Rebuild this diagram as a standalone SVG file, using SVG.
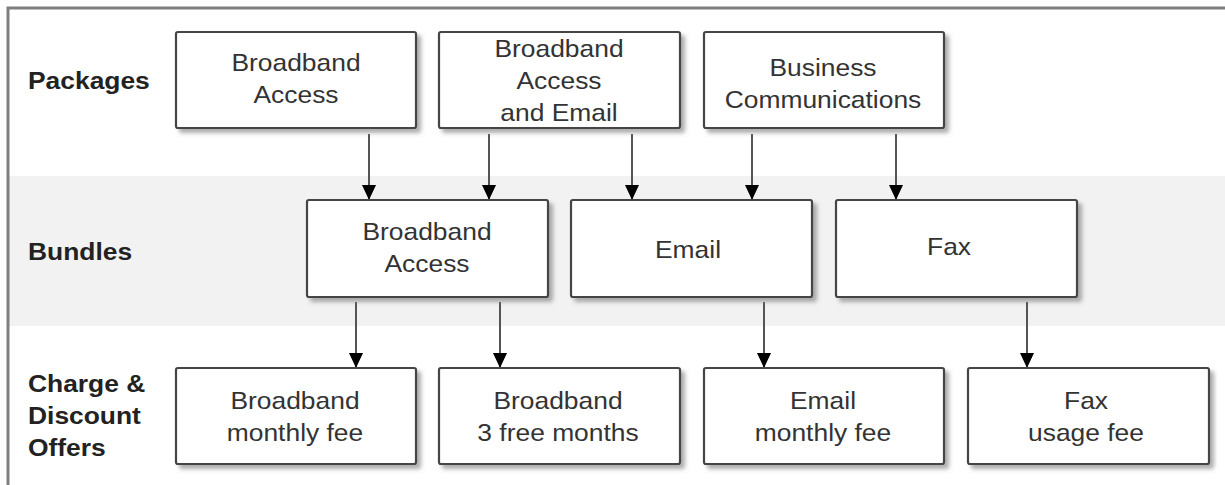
<svg xmlns="http://www.w3.org/2000/svg" width="1225" height="485" viewBox="0 0 1225 485">
<style>
.box{fill:#fff;stroke:#444;stroke-width:2.2;filter:url(#sh)}
.t{font-family:"Liberation Sans",Arial,sans-serif;font-size:24px;fill:#333;text-anchor:middle}
.lb{font-family:"Liberation Sans",Arial,sans-serif;font-size:24px;font-weight:bold;fill:#222}
.c{stroke:#555;stroke-width:2;fill:none;marker-end:url(#ah)}
</style>
<defs>
<filter id="sh" x="-10%" y="-10%" width="130%" height="140%">
<feDropShadow dx="4" dy="4" stdDeviation="2" flood-color="#777" flood-opacity="0.6"/>
</filter>
<marker id="ah" markerWidth="15" markerHeight="14" refX="15" refY="7" orient="auto" markerUnits="userSpaceOnUse" viewBox="0 0 15 14">
<path d="M0,0 L15,7 L0,14 Z" fill="#000"/>
</marker>
</defs>
<rect x="0" y="0" width="1225" height="485" fill="#fff"/>
<rect x="9" y="176" width="1216" height="150" fill="#f2f2f2"/>
<rect x="8" y="8" width="1240" height="500" fill="none" stroke="#7f7f7f" stroke-width="3"/>
<g id="lanes">
<text class="lb" transform="translate(28,89) scale(1.1,1)">Packages</text>
<text class="lb" transform="translate(28,260) scale(1.1,1)">Bundles</text>
<text class="lb" transform="translate(28,392) scale(1.1,1)">Charge &amp;</text>
<text class="lb" transform="translate(28,424) scale(1.1,1)">Discount</text>
<text class="lb" transform="translate(28,456) scale(1.1,1)">Offers</text>
</g>
<g id="connectors">
<line class="c" x1="369" y1="134" x2="369" y2="200"/>
<line class="c" x1="489" y1="134" x2="489" y2="200"/>
<line class="c" x1="632" y1="134" x2="632" y2="200"/>
<line class="c" x1="752" y1="134" x2="752" y2="200"/>
<line class="c" x1="896" y1="134" x2="896" y2="200"/>
<line class="c" x1="356" y1="302" x2="356" y2="368"/>
<line class="c" x1="500" y1="302" x2="500" y2="368"/>
<line class="c" x1="764" y1="302" x2="764" y2="368"/>
<line class="c" x1="1027" y1="302" x2="1027" y2="368"/>
</g>
<g id="pkg-broadband">
<rect class="box" x="176" y="32" width="240" height="96" rx="2"/>
<text class="t" transform="translate(296,71) scale(1.1,1)">Broadband</text>
<text class="t" transform="translate(296,103) scale(1.1,1)">Access</text>
</g>
<g id="pkg-broadband-email">
<rect class="box" x="439" y="32" width="241" height="96" rx="2"/>
<text class="t" transform="translate(559,57) scale(1.1,1)">Broadband</text>
<text class="t" transform="translate(559,89) scale(1.1,1)">Access</text>
<text class="t" transform="translate(559,121) scale(1.1,1)">and Email</text>
</g>
<g id="pkg-business">
<rect class="box" x="704" y="32" width="240" height="96" rx="2"/>
<text class="t" transform="translate(823,76) scale(1.1,1)">Business</text>
<text class="t" transform="translate(823,108) scale(1.1,1)">Communications</text>
</g>
<g id="bun-broadband">
<rect class="box" x="307" y="200" width="241" height="97" rx="2"/>
<text class="t" transform="translate(427,240) scale(1.1,1)">Broadband</text>
<text class="t" transform="translate(427,272) scale(1.1,1)">Access</text>
</g>
<g id="bun-email">
<rect class="box" x="571" y="200" width="241" height="97" rx="2"/>
<text class="t" transform="translate(688,258) scale(1.1,1)">Email</text>
</g>
<g id="bun-fax">
<rect class="box" x="836" y="200" width="241" height="97" rx="2"/>
<text class="t" transform="translate(949,255) scale(1.1,1)">Fax</text>
</g>
<g id="off-bb-monthly">
<rect class="box" x="176" y="368" width="240" height="96" rx="2"/>
<text class="t" transform="translate(295,409) scale(1.1,1)">Broadband</text>
<text class="t" transform="translate(295,441) scale(1.1,1)">monthly fee</text>
</g>
<g id="off-bb-free">
<rect class="box" x="439" y="368" width="241" height="96" rx="2"/>
<text class="t" transform="translate(558,409) scale(1.1,1)">Broadband</text>
<text class="t" transform="translate(558,441) scale(1.1,1)">3 free months</text>
</g>
<g id="off-email-monthly">
<rect class="box" x="704" y="368" width="240" height="96" rx="2"/>
<text class="t" transform="translate(823,409) scale(1.1,1)">Email</text>
<text class="t" transform="translate(823,441) scale(1.1,1)">monthly fee</text>
</g>
<g id="off-fax-usage">
<rect class="box" x="968" y="368" width="241" height="96" rx="2"/>
<text class="t" transform="translate(1086,409) scale(1.1,1)">Fax</text>
<text class="t" transform="translate(1086,441) scale(1.1,1)">usage fee</text>
</g>
</svg>
